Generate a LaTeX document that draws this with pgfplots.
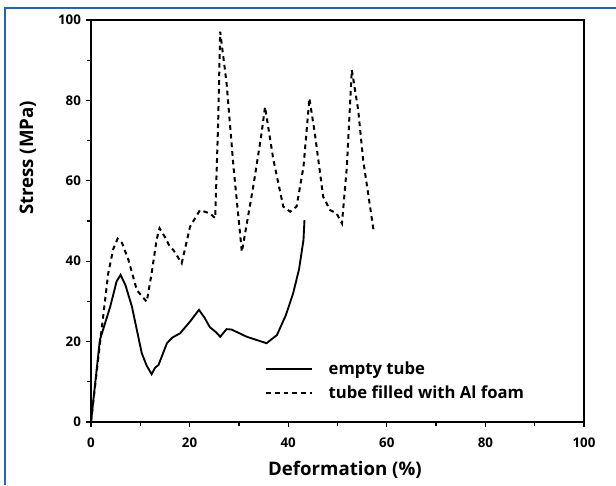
\documentclass[border=0pt]{standalone}
\usepackage{fontspec}
\setmainfont{Open Sans}
\usepackage{pgfplots}
\pgfplotsset{compat=1.18}
\definecolor{frameblue}{RGB}{40,100,170}
\begin{document}
\begin{tikzpicture}
\path[use as bounding box] (0pt,0pt) rectangle (462pt,363.75pt);
\draw[frameblue,line width=0.9pt] (3.75pt,0pt) -- (3.75pt,357.75pt) -- (462pt,357.75pt);
\begin{axis}[
  at={(68.25pt,47.25pt)}, anchor=south west,
  scale only axis, width=369.75pt, height=301.5pt,
  xmin=0, xmax=100, ymin=0, ymax=100,
  xtick={0,20,...,100}, ytick={0,20,...,100},
  minor xtick={10,30,50,70,90}, minor ytick={10,30,50,70,90},
  tick align=outside, xtick pos=bottom, ytick pos=left,
  major tick length=4pt, minor tick length=3pt,
  every tick/.style={line width=1pt, black},
  axis line style={line width=1.3pt},
  /pgf/number format/assume math mode=true,
  tick label style={font=\bfseries\fontsize{10}{12}\selectfont},
  xticklabel style={yshift=-4pt},
  label style={font=\bfseries\fontsize{14}{16}\selectfont},
  xlabel={Deformation (\%)},
  ylabel={Stress (MPa)},
  xlabel style={at={(axis description cs:0.515,-0.12)}, anchor=center},
  ylabel style={at={(axis description cs:-0.128,0.657)}, anchor=center},
  legend style={at={(0.345,0.163)}, anchor=north west, draw=none, fill=none,
    font=\bfseries\fontsize{12.5}{14}\selectfont, row sep=3pt},
  legend cell align=left,
  legend image code/.code={\draw[#1] (0pt,0pt) -- (34pt,0pt); \path (44pt,0pt);},
]
\addplot[black, line width=1.4pt] coordinates {
(0,0) (1.8,20.4) (3.9,28.7) (5.2,35) (6.0,36.6) (7.0,34) (8.3,28.7) (10.3,17.1)
(11.3,14) (12.3,11.9) (13.0,13.5) (13.7,14.2) (15.4,19.6) (16.5,21) (18.1,22.1)
(20.1,25) (21.9,27.9) (23,26) (24.1,23.6) (25.4,22.3) (26.2,21.2) (27.5,23.1)
(28.5,23) (31.6,21.2) (35.6,19.6) (37.7,21.6) (39.5,26.5) (41.0,32) (42.2,38)
(43.1,45.3) (43.3,50.2)
};
\addlegendentry{empty tube}
\addplot[black, line width=1.5pt, dash pattern=on 3.5pt off 3pt] coordinates {
(0,0) (1.5,16.2) (3.5,37) (4.5,43) (5.4,45.6) (6.3,44.5) (7.6,40.3) (9.3,32.8)
(11.3,29.9) (12.3,37) (13.3,45.3) (13.9,48.2) (15.0,46) (16.0,43.6) (16.7,42.8)
(18.4,39.5) (20.1,48.6) (22.1,52.7) (24.1,51.9) (25.2,50.7) (25.8,75) (26.2,97.1)
(27.5,84.3) (28.9,63.5) (30.6,42.3) (32.9,58.5) (34.5,71) (35.3,78.4) (37,65.2)
(39,53.6) (40.4,52.3) (41.7,53.6) (43.1,63.5) (44.3,80.5) (45.4,71.8) (47.1,56)
(48.5,52.7) (49.8,51.9) (50.9,49.4) (51.9,63.5) (52.9,87.6) (54.2,77.6) (55.2,65.2)
(57.3,47.8)
};
\addlegendentry{tube filled with Al foam}
\end{axis}
\end{tikzpicture}
\end{document}
